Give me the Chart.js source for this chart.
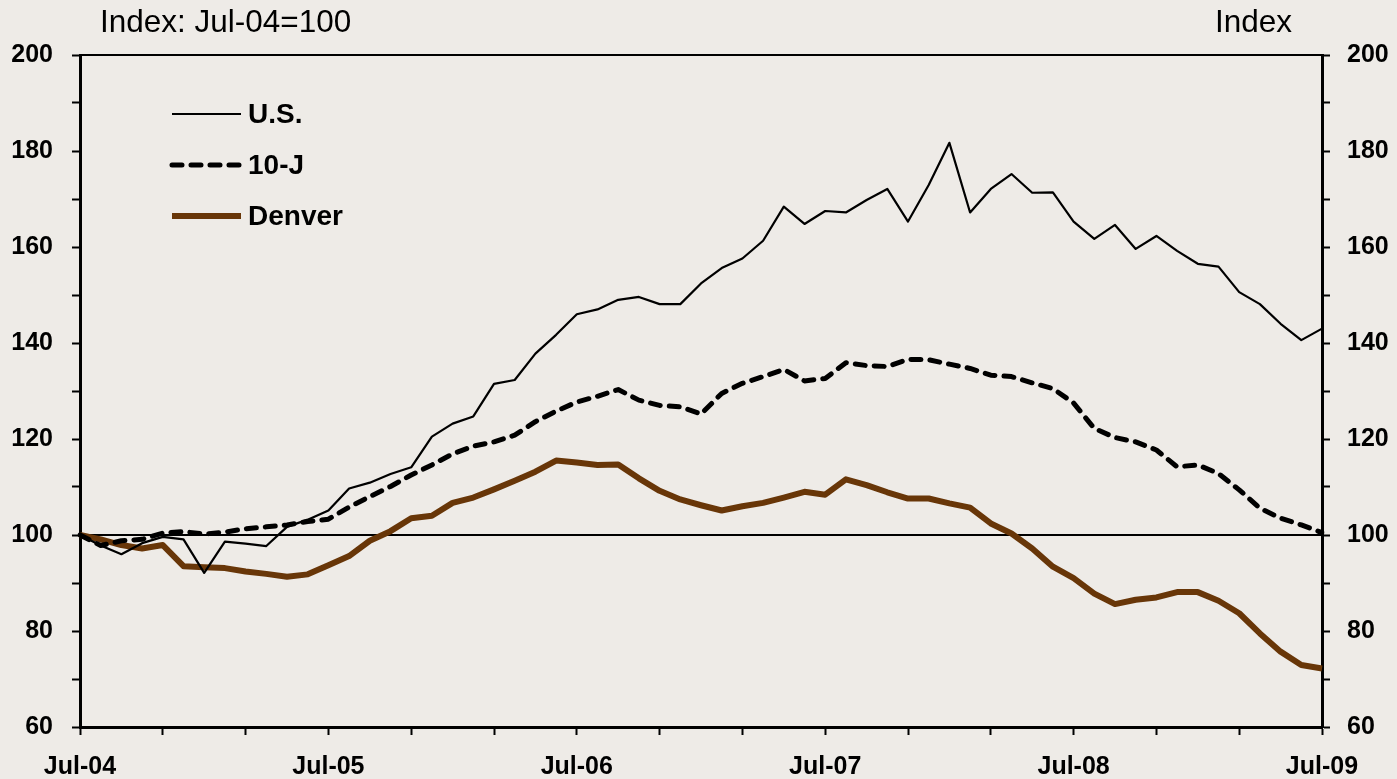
<!DOCTYPE html>
<html lang="en">

<head>
  <meta charset="UTF-8">
  <title>Home price index: U.S., 10-J, Denver</title>
  <script src="https://cdn.jsdelivr.net/npm/chart.js"></script>
  <style>
    body { margin: 0; background: #eeebe7; }
    .wrap { position: relative; width: 1397px; height: 779px; }
    .hdr { position: absolute; top: 3px; font: 31.5px "Liberation Sans", Arial, sans-serif; color: #000; }
  </style>
</head>

<body>
  <div class="wrap">
    <canvas id="hpiChart" width="1397" height="779"></canvas>
    <div class="hdr" style="left:100px">Index: Jul-04=100</div>
    <div class="hdr" style="right:105px">Index</div>
  </div>

  <script>
    // monthly, Jul-04 .. Jul-09
    const months = [
      'Jul-04', 'Aug-04', 'Sep-04', 'Oct-04', 'Nov-04', 'Dec-04', 'Jan-05', 'Feb-05', 'Mar-05', 'Apr-05', 'May-05', 'Jun-05',
      'Jul-05', 'Aug-05', 'Sep-05', 'Oct-05', 'Nov-05', 'Dec-05', 'Jan-06', 'Feb-06', 'Mar-06', 'Apr-06', 'May-06', 'Jun-06',
      'Jul-06', 'Aug-06', 'Sep-06', 'Oct-06', 'Nov-06', 'Dec-06', 'Jan-07', 'Feb-07', 'Mar-07', 'Apr-07', 'May-07', 'Jun-07',
      'Jul-07', 'Aug-07', 'Sep-07', 'Oct-07', 'Nov-07', 'Dec-07', 'Jan-08', 'Feb-08', 'Mar-08', 'Apr-08', 'May-08', 'Jun-08',
      'Jul-08', 'Aug-08', 'Sep-08', 'Oct-08', 'Nov-08', 'Dec-08', 'Jan-09', 'Feb-09', 'Mar-09', 'Apr-09', 'May-09', 'Jun-09',
      'Jul-09'
    ];

    const usIndex = [
      100, 97.8, 96.0, 98.3, 99.6, 99.1, 92.1, 98.6, 98.2, 97.7, 101.7, 103.2,
      105.1, 109.7, 110.9, 112.7, 114.1, 120.5, 123.2, 124.7, 131.5, 132.3, 137.8, 141.7,
      146.0, 147.0, 149.0, 149.6, 148.1, 148.1, 152.4, 155.6, 157.6, 161.3, 168.4, 164.8,
      167.5, 167.2, 169.8, 172.1, 165.3, 172.9, 181.7, 167.2, 172.1, 175.2, 171.3, 171.4,
      165.3, 161.7, 164.6, 159.6, 162.3, 159.2, 156.5, 155.9, 150.6, 148.1, 144.0, 140.6,
      143.0
    ];

    const tenJIndex = [
      100, 97.8, 98.8, 99.1, 100.4, 100.7, 100.2, 100.6, 101.3, 101.7, 102.1, 102.8,
      103.3, 105.8, 108.0, 110.1, 112.5, 114.6, 116.9, 118.5, 119.4, 120.8, 123.6, 125.8,
      127.7, 128.9, 130.3, 128.1, 127.0, 126.7, 125.2, 129.5, 131.6, 133.0, 134.5, 132.1,
      132.6, 135.9, 135.3, 135.1, 136.6, 136.5, 135.6, 134.7, 133.3, 133.0, 131.7, 130.5,
      127.5, 122.2, 120.3, 119.4, 117.7, 114.2, 114.6, 112.8, 109.4, 105.6, 103.5, 102.1,
      100.5
    ];

    const denverIndex = [
      100, 99.1, 97.9, 97.2, 97.9, 93.5, 93.3, 93.1, 92.4, 91.9, 91.3, 91.8,
      93.7, 95.6, 98.8, 100.8, 103.5, 104.0, 106.7, 107.8, 109.5, 111.3, 113.2, 115.5,
      115.1, 114.6, 114.7, 111.8, 109.2, 107.4, 106.2, 105.1, 106.0, 106.7, 107.8, 109.0,
      108.4, 111.6, 110.4, 108.9, 107.6, 107.6, 106.6, 105.7, 102.4, 100.3, 97.2, 93.4,
      91.0, 87.8, 85.6, 86.5, 87.0, 88.1, 88.1, 86.3, 83.7, 79.5, 75.7, 72.9,
      72.2
    ];

    const FONT = '"Liberation Sans", Arial, sans-serif';
    const BROWN = '#683608';

    // base line at 100 + top frame, drawn under the series
    const frameLines = {
      id: 'frameLines',
      beforeDatasetsDraw(chart) {
        const { ctx, chartArea: a, scales } = chart;
        const y100 = scales.y.getPixelForValue(100);
        ctx.save();
        ctx.strokeStyle = '#000';
        ctx.lineWidth = 2;
        ctx.beginPath();
        ctx.moveTo(a.left, y100);
        ctx.lineTo(a.right, y100);
        ctx.moveTo(a.left, a.top);
        ctx.lineTo(a.right, a.top);
        ctx.stroke();
        ctx.restore();
      }
    };

    // legend inside the plot, stacked vertically
    const innerLegend = {
      id: 'innerLegend',
      afterDraw(chart, args, opts) {
        const { ctx } = chart;
        ctx.save();
        chart.data.datasets.forEach((ds, i) => {
          const y = opts.top + i * opts.gap;
          ctx.strokeStyle = ds.borderColor;
          ctx.lineWidth = ds.borderWidth;
          ctx.setLineDash(ds.borderDash || []);
          ctx.lineCap = ds.borderCapStyle || 'butt';
          ctx.beginPath();
          ctx.moveTo(opts.left, y);
          ctx.lineTo(opts.left + opts.lineLen, y);
          ctx.stroke();
          ctx.setLineDash([]);
          ctx.fillStyle = '#000';
          ctx.font = 'bold 28px ' + FONT;
          ctx.textBaseline = 'middle';
          ctx.fillText(ds.label, opts.left + opts.lineLen + 7, y + 1);
        });
        ctx.restore();
      }
    };

    const yAxis = (pos, width, pad) => ({
      position: pos,
      min: 60,
      max: 200,
      afterFit: s => { s.width = width; },
      border: { display: true, color: '#000', width: 3 },
      grid: { drawOnChartArea: false, tickLength: 8, tickColor: '#000', tickWidth: 2 },
      ticks: {
        stepSize: 10,
        padding: pad,
        color: '#000',
        font: { family: FONT, size: 25, weight: 'bold' },
        callback: v => (v % 20 === 0 ? v : '')
      }
    });

    new Chart(document.getElementById('hpiChart'), {
      type: 'line',
      data: {
        labels: months,
        datasets: [
          { label: 'U.S.', data: usIndex, borderColor: '#000', borderWidth: 2.2 },
          { label: '10-J', data: tenJIndex, borderColor: '#000', borderWidth: 5, borderDash: [10, 9], borderCapStyle: 'round' },
          { label: 'Denver', data: denverIndex, borderColor: BROWN, borderWidth: 6 }
        ]
      },
      options: {
        responsive: false,
        animation: false,
        devicePixelRatio: 1,
        layout: { padding: { top: 55, left: 0, right: 0, bottom: 0 } },
        elements: {
          point: { radius: 0 },
          line: { tension: 0, borderJoinStyle: 'round' }
        },
        plugins: {
          legend: { display: false },
          tooltip: { enabled: false },
          innerLegend: { left: 172, top: 114, gap: 51, lineLen: 69 }
        },
        scales: {
          x: {
            afterFit: s => { s.height = 52; },
            border: { display: true, color: '#000', width: 3 },
            grid: {
              drawOnChartArea: false,
              tickLength: 8,
              tickWidth: 2,
              tickColor: c => (c.index % 4 === 0 ? '#000' : 'rgba(0,0,0,0)')
            },
            ticks: {
              autoSkip: false,
              maxRotation: 0,
              padding: 17,
              color: '#000',
              font: { family: FONT, size: 25, weight: 'bold' },
              callback: (v, i) => (i % 12 === 0 ? months[i] : '')
            }
          },
          y: yAxis('left', 80, 19),
          y2: yAxis('right', 75, 17)
        }
      },
      plugins: [frameLines, innerLegend]
    });
  </script>
</body>

</html>
